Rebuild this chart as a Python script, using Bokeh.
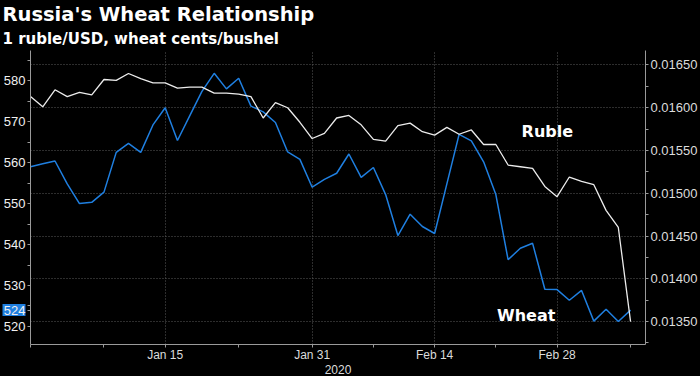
import pandas as pd
from bokeh.plotting import figure
from bokeh.models import (Range1d, LinearAxis, FixedTicker, Label, ColumnDataSource,
                          PrintfTickFormatter, Title, AllLabels)
from bokeh.embed import file_html
from bokeh.resources import INLINE

# ---------------- data ----------------
dates = pd.bdate_range("2019-12-31", "2020-03-09")  # weekday axis, 50 sessions

ruble = [0.01613, 0.01601, 0.01621, 0.01613, 0.01618, 0.01615, 0.01633, 0.01632,
         0.01640, 0.01634, 0.01629, 0.01629, 0.01623, 0.01624, 0.01624, 0.01617,
         0.01617, 0.01616, 0.01613, 0.01588, 0.01606, 0.01600, 0.01583, 0.01564,
         0.01570, 0.01588, 0.01591, 0.01580, 0.01563, 0.01561, 0.01579, 0.01582,
         0.01572, 0.01568, 0.01577, 0.01569, 0.01574, 0.01557, 0.01557, 0.01533,
         0.01531, 0.01529, 0.01508, 0.01496, 0.01519, 0.01514, 0.01510, 0.01480,
         0.01460, 0.01350]

wheat = [559.0, 559.7, 560.4, 554.8, 550.0, 550.3, 552.8, 562.5, 564.7, 562.5,
         569.2, 573.4, 565.4, 571.4, 577.4, 581.8, 578.0, 580.6, 573.8, 572.4,
         569.8, 562.6, 560.8, 554.0, 555.9, 557.4, 562.1, 556.4, 558.8, 552.2,
         542.2, 547.4, 544.4, 542.7, 554.8, 566.9, 565.3, 560.2, 552.2, 536.3,
         539.1, 540.3, 529.1, 529.0, 526.4, 528.8, 521.3, 524.2, 521.2, 524.0]

major_dates = ["2020-01-15", "2020-01-31", "2020-02-14", "2020-02-28"]
major_labels = ["Jan 15", "Jan 31", "Feb 14", "Feb 28"]
minor_dates = ["2019-12-31", "2020-01-08", "2020-01-23", "2020-02-07", "2020-02-21", "2020-03-09"]

wheat_ticks = [520, 530, 540, 550, 560, 570, 580]
wheat_minor = [515, 525, 535, 545, 555, 565, 575, 585]
ruble_ticks = [0.0135, 0.0140, 0.0145, 0.0150, 0.0155, 0.0160, 0.0165]
ruble_minor = [0.01325, 0.01375, 0.01425, 0.01475, 0.01525, 0.01575, 0.01625, 0.01675]

title_text = "Russia's Wheat Relationship"
subtitle_text = "1 ruble/USD, wheat cents/bushel"
year_text = "2020"

# ---------------- build ----------------
date_strs = [d.strftime("%Y-%m-%d") for d in dates]
idx = list(range(len(dates)))
major_pos = [date_strs.index(d) for d in major_dates]
minor_pos = [date_strs.index(d) for d in minor_dates]
last_wheat = wheat[-1]

src = ColumnDataSource(dict(x=idx, ruble=ruble, wheat=wheat))

BG = "#000000"
AX = "#9a9a9a"
TXT = "#dcdcdc"
BLUE = "#1f7fe0"
TICKFONT = "Liberation Sans"
XEND = 50.22

p = figure(width=700, height=376, output_backend="svg", toolbar_location=None,
           x_range=Range1d(0, XEND), y_range=Range1d(515.6, 587.37),
           min_border_left=30, min_border_right=53, min_border_top=47, min_border_bottom=30)
p.background_fill_color = BG
p.border_fill_color = BG
p.outline_line_color = None
p.extra_y_ranges = {"ruble": Range1d(0.013232, 0.016669)}

# titles: subtitle first (nearest the frame), then main title
p.add_layout(Title(text=subtitle_text, text_color="white", text_font="DejaVu Sans",
                   text_font_style="bold", text_font_size="15px", align="left",
                   offset=-28, standoff=5, text_line_height=0.8), "above")
p.add_layout(Title(text=title_text, text_color="white", text_font="DejaVu Sans",
                   text_font_style="bold", text_font_size="19.5px", align="left",
                   offset=-28, standoff=0, text_line_height=0.8), "above")

# left axis (wheat) - the last value also gets a label
ya = p.yaxis[0]
ya.ticker = FixedTicker(ticks=sorted(wheat_ticks + [round(last_wheat)]), minor_ticks=wheat_minor)
ya.major_label_policy = AllLabels()
# right axis (ruble)
ra = LinearAxis(y_range_name="ruble",
                ticker=FixedTicker(ticks=ruble_ticks, minor_ticks=ruble_minor),
                formatter=PrintfTickFormatter(format="%.5f"))
p.add_layout(ra, "right")

xa = p.xaxis[0]
xa.ticker = FixedTicker(ticks=major_pos, minor_ticks=minor_pos)
xa.major_label_overrides = {pos: lab for pos, lab in zip(major_pos, major_labels)}
xa.axis_label = year_text
xa.axis_label_text_font = TICKFONT
xa.axis_label_text_font_size = "12px"
xa.axis_label_text_font_style = "normal"
xa.axis_label_text_color = TXT
xa.axis_label_standoff = 0

for ax in (ya, ra, xa):
    ax.axis_line_color = AX
    ax.major_tick_line_color = AX
    ax.minor_tick_line_color = AX
    ax.major_tick_in = 0
    ax.major_tick_out = 3
    ax.minor_tick_in = 0
    ax.minor_tick_out = 3
    ax.major_label_text_color = TXT
    ax.major_label_text_font = TICKFONT
    ax.major_label_text_font_size = "13px"
    ax.major_label_standoff = 2
xa.major_label_standoff = 0
xa.major_label_text_font_size = "12px"
ya.major_label_text_color = "#f0f0f0"

# grids
p.xgrid.grid_line_color = "#5a5a5a"
p.xgrid.grid_line_dash = "1 2"
p.ygrid.y_range_name = "ruble"
p.ygrid.ticker = FixedTicker(ticks=ruble_ticks)
p.ygrid.grid_line_color = "#5a5a5a"
p.ygrid.grid_line_dash = "1 2"

# lines
p.line("x", "wheat", source=src, line_color=BLUE, line_width=1.5)
p.line("x", "ruble", source=src, y_range_name="ruble", line_color="#ececec", line_width=1.3)

# series annotations
p.add_layout(Label(x=40.1, y=567.7, text="Ruble", text_color="white", text_font="DejaVu Sans",
                   text_font_style="bold", text_font_size="16px", text_baseline="middle"))
p.add_layout(Label(x=38.1, y=522.6, text="Wheat", text_color="white", text_font="DejaVu Sans",
                   text_font_style="bold", text_font_size="16px", text_baseline="middle"))


# last-value marker box: a zero-width label whose thick border paints the box.
# It sits in the left panel (no width taken) and is drawn before the axis.
def marker(x, y, dx, width, color, **kw):
    return Label(x=x, y=y, x_offset=dx, text="\u200b", text_font=TICKFONT,
                 text_font_size="11px", text_align="center", text_baseline="middle",
                 background_fill_color=color, border_line_color=color,
                 border_line_width=width, level="guide", **kw)


p.left = [marker(0, last_wheat, -16.5, 23, BLUE)] + list(p.left)

html = file_html(p, INLINE)
html = html.replace("<head>", "<head><style>html,body{margin:0;padding:0;background:#000;overflow:hidden}</style>", 1)
open("out.html", "w").write(html)
